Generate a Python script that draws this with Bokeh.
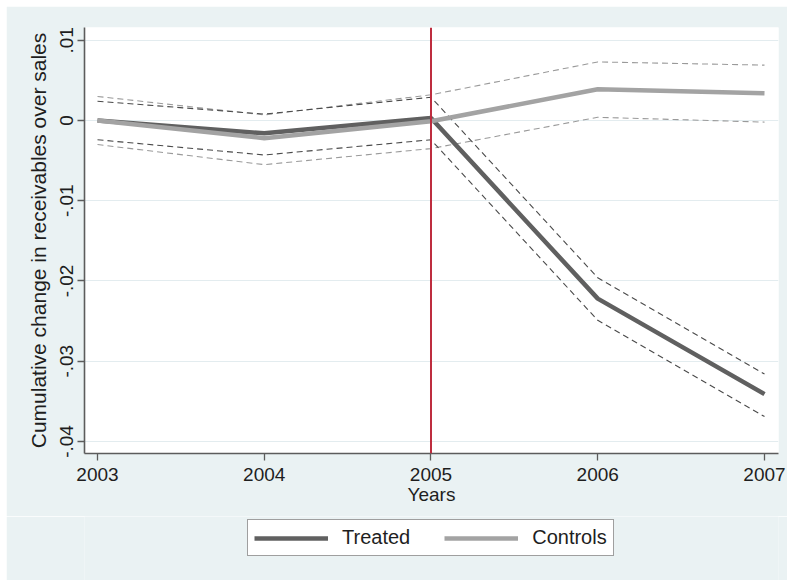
from bokeh.plotting import figure
from bokeh.layouts import column
from bokeh.models import Legend, LegendItem, FixedTicker, Span
from bokeh.embed import file_html
from bokeh.resources import INLINE

# Event-study estimates: cumulative change in receivables over sales
years = [2003, 2004, 2005, 2006, 2007]

treated = [0.0, -0.0016, 0.0003, -0.0222, -0.0341]
treated_hi = [0.0024, 0.0008, 0.0029, -0.0196, -0.0316]
treated_lo = [-0.0024, -0.0043, -0.0024, -0.0249, -0.0369]

controls = [0.0, -0.0022, -0.0001, 0.0039, 0.0034]
controls_hi = [0.0030, 0.0007, 0.0032, 0.0073, 0.0069]
controls_lo = [-0.0030, -0.0055, -0.0035, 0.0004, -0.0002]

event_year = 2005

y_ticks = [-0.04, -0.03, -0.02, -0.01, 0.0, 0.01]
y_tick_labels = ["-.04", "-.03", "-.02", "-.01", "0", ".01"]
x_tick_labels = ["2003", "2004", "2005", "2006", "2007"]
series_names = ["Treated", "Controls"]

FONT = "Liberation Sans"
BG = "#EAF2F3"
AXIS = "#5c5c5c"
TEXT = "#1e1e1e"
C_TREATED = "#606060"
C_CONTROLS = "#a3a3a3"

BORDER_L, BORDER_R = 78, 9

p = figure(
    width=781, height=510,
    x_range=(2002.922, 2007.084), y_range=(-0.0415, 0.01159),
    output_backend="svg", toolbar_location=None,
    min_border_left=BORDER_L, min_border_right=BORDER_R,
    min_border_top=21, min_border_bottom=63,
)
p.background_fill_color = "white"
p.border_fill_color = BG
p.outline_line_color = None

# confidence bands (dashed)
p.line(years, controls_hi, line_color="#9a9a9a", line_width=1.1, line_dash="6 4")
p.line(years, controls_lo, line_color="#9a9a9a", line_width=1.1, line_dash="6 4")
p.line(years, treated_hi, line_color="#4a4a4a", line_width=1.1, line_dash="6 4")
p.line(years, treated_lo, line_color="#4a4a4a", line_width=1.1, line_dash="6 4")

# point estimates
p.line(years, treated, line_color=C_TREATED, line_width=4.5)
p.line(years, controls, line_color=C_CONTROLS, line_width=4.5)

# reform year marker
p.add_layout(Span(location=event_year, dimension="height",
                  line_color="#BE2D3F", line_width=2))

# axes
p.xaxis.ticker = FixedTicker(ticks=years)
p.xaxis.major_label_overrides = dict(zip(years, x_tick_labels))
p.yaxis.ticker = FixedTicker(ticks=y_ticks)
p.yaxis.major_label_overrides = dict(zip(y_ticks, y_tick_labels))
p.yaxis.major_label_orientation = "vertical"

for ax in (p.xaxis[0], p.yaxis[0]):
    ax.axis_line_color = AXIS
    ax.axis_line_width = 1.6
    ax.major_tick_line_color = AXIS
    ax.major_tick_line_width = 1.3
    ax.major_tick_out = 7
    ax.major_tick_in = 0
    ax.minor_tick_line_color = None
    ax.major_label_text_font = FONT
    ax.major_label_text_font_size = "19px"
    ax.major_label_text_color = TEXT
    ax.axis_label_text_font = FONT
    ax.axis_label_text_font_style = "normal"
    ax.axis_label_text_color = TEXT

p.xaxis.axis_label = "Years"
p.xaxis.axis_label_text_font_size = "19px"
p.xaxis.major_label_standoff = 7
p.xaxis.axis_label_standoff = 0
p.yaxis.axis_label = "Cumulative change in receivables over sales"
p.yaxis.axis_label_text_font_size = "21px"
p.yaxis.major_label_standoff = 4
p.yaxis.axis_label_standoff = 8

p.xgrid.visible = False
p.ygrid.ticker = FixedTicker(ticks=y_ticks)
p.ygrid.grid_line_color = "#E3ECEF"
p.ygrid.grid_line_width = 1

# legend strip underneath the chart; its frame lines up with the chart frame
leg = figure(
    width=781, height=64, output_backend="svg", toolbar_location=None,
    x_axis_location=None, y_axis_location=None,
    min_border_left=BORDER_L, min_border_right=BORDER_R,
    min_border_top=0, min_border_bottom=0,
    x_range=(0, 1), y_range=(0, 1),
)
leg.background_fill_color = BG
leg.border_fill_color = BG
leg.outline_line_color = None
leg.grid.visible = False
# key glyphs: segments kept outside the visible range so only the legend shows them
k_treated = leg.line([5, 6], [5, 6], line_color=C_TREATED, line_width=4.5)
k_controls = leg.line([5, 6], [5, 6], line_color=C_CONTROLS, line_width=4.5)

legend = Legend(
    items=[LegendItem(label=series_names[0], renderers=[k_treated]),
           LegendItem(label=series_names[1], renderers=[k_controls])],
    orientation="horizontal", location=(163, 24),
    glyph_width=74, glyph_height=18, label_standoff=14, spacing=34,
    padding=6, margin=0,
    label_text_font=FONT, label_text_font_size="20px", label_text_color=TEXT,
    border_line_color="#404040", border_line_width=1,
    background_fill_color="white", background_fill_alpha=1,
)
leg.add_layout(legend)

page = column(p, leg, spacing=0, margin=(6, 0, 0, 6))

open("out.html", "w").write(file_html(page, INLINE))
